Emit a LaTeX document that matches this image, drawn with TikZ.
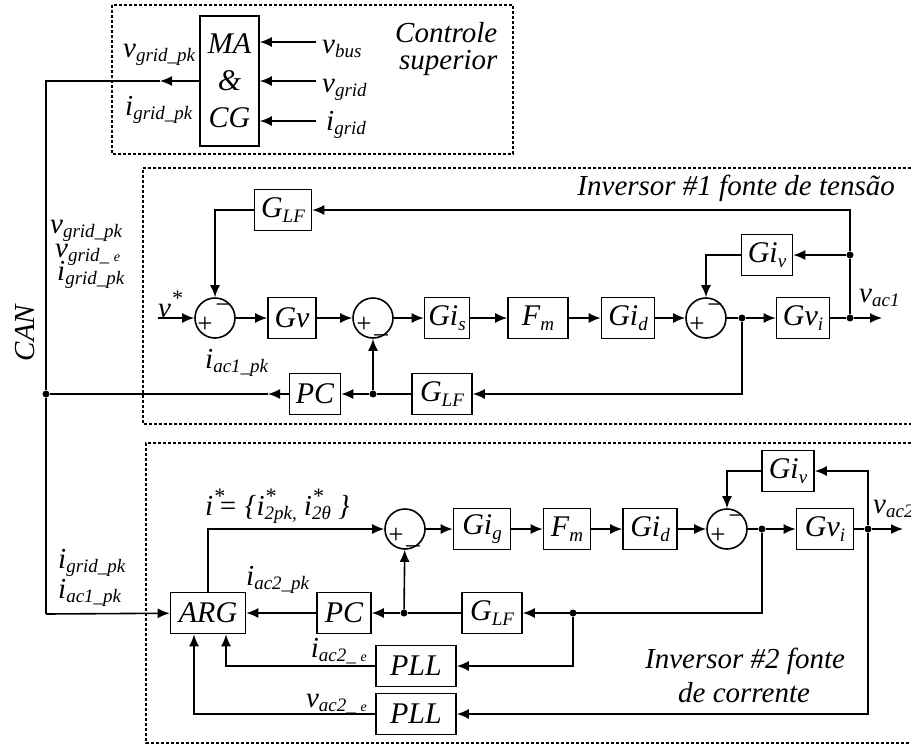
\documentclass[tikz,border=0pt]{standalone}
\usepackage{fontspec}
\setmainfont{Liberation Serif}
\usepackage{tikz}
\usetikzlibrary{positioning,calc,arrows.meta}

\newcommand{\lowtx}[1]{\raisebox{-0.17em}{\fontsize{19}{19}\selectfont #1}}
\newcommand{\uptx}[1]{\raisebox{0.40em}{\fontsize{22}{22}\selectfont #1}}
\newcommand{\tinye}{{\fontsize{14}{14}\selectfont e}}

\begin{document}
\begin{tikzpicture}[x=1pt,y=-1pt,font=\itshape\fontsize{29}{34}\selectfont,
 blk/.style={draw,line width=1.6pt,minimum height=41pt,inner sep=0pt,font=\itshape\fontsize{30}{34}\selectfont},
 sm/.style={draw,circle,line width=1.6pt,minimum size=40pt,inner sep=0pt},
 sgn/.style={font=\upshape\fontsize{27}{27}\selectfont,inner sep=0pt,anchor=base},
 ar/.style={-{Latex[length=12pt,width=10pt]},line width=1.6pt},
 ln/.style={line width=1.6pt},
 dotn/.style={circle,fill,inner sep=0pt,minimum size=7pt},
 dbox/.style={line width=1.3pt,dash pattern=on 3pt off 2pt},
 lbl/.style={inner sep=0pt,anchor=base west},
 lbr/.style={inner sep=0pt,anchor=base east}]
\useasboundingbox (0,0) rectangle (911,745);

% controle superior
\draw[dbox] (112,5) rectangle (513,154);
\node[draw,line width=1.6pt,minimum width=59pt,minimum height=130pt,inner sep=0pt,align=center,
 font=\itshape\fontsize{30}{37}\selectfont] (macg) at (229.5,81) {MA\\\&\\CG};
\coordinate (vbus) at (316,42);
\coordinate (vgrd) at (316,81);
\coordinate (igrd) at (316,121);
\draw[ar] (vbus) -- (vbus -| macg.east);
\draw[ar] (vgrd) -- (macg);
\draw[ar] (igrd) -- (igrd -| macg.east);
\node[lbl] at (322,53) {v\lowtx{bus}};
\node[lbl] at (322,92) {v\lowtx{grid}};
\node[lbl] at (326,130) {i\lowtx{grid}};
\node[lbl] (ctl1) at (395,42) {Controle};
\node[lbl] (ctl2) at (399,69) {superior};
\node[lbl] at (123,57) {v\lowtx{grid\_pk}};
\node[lbl] at (125,115) {i\lowtx{grid\_pk}};

% CAN
\coordinate (tipa) at (160,81);
\coordinate (cantop) at (46,81);
\node[dotn] (canj) at (46,394) {};
\coordinate (canbot) at (46,614);
\draw[ar] (macg.west) -- (tipa);
\draw[ln] (tipa) -- (cantop) -- (canj) -- (canbot);
\node[rotate=90,inner sep=0pt] (can) at (25,333) {CAN};
\node[lbl] at (50,233) {v\lowtx{grid\_pk}};
\node[lbl] at (55,257) {v\lowtx{grid\_ \tinye}};
\node[lbl] at (57,280) {i\lowtx{grid\_pk}};

% inversor 1
\draw[dbox] (911,168) -| (143,424) -- (911,424);
\node[lbr] at (895,195) {Inversor \#1 fonte de tensão};
\coordinate (vin) at (158,318);
\node[sm] (s1) at (215,318) {};
\node[blk,minimum width=48pt] (gv1) at (292,318) {Gv};
\node[sm] (s2) at (373,318) {};
\node[blk,minimum width=45pt] (gis1) at (447,318) {Gi\lowtx{s}};
\node[blk,minimum width=60pt] (fm1) at (538,318) {F\lowtx{m}};
\node[blk,minimum width=53pt] (gid1) at (628,318) {Gi\lowtx{d}};
\node[sm] (s3) at (706,318) {};
\node[dotn] (j1a) at (742,318) {};
\node[blk,minimum width=53pt] (gvi1) at (803,318) {Gv\lowtx{i}};
\node[dotn] (o1) at (850,318) {};
\coordinate (vo1) at (882,318);
\node[blk,minimum width=51pt] (giv1) at (767,255) {Gi\lowtx{v}};
\node[dotn] (j1b) at (850,255) {};
\node[blk,minimum width=57pt] (glf1t) at (283,210) {G\lowtx{LF}};
\node[blk,minimum width=60pt] (glf1b) at (442,394) {G\lowtx{LF}};
\node[dotn] (j1c) at (373,394) {};
\node[blk,minimum width=51pt] (pc1) at (315,394) {PC};
\coordinate (tipb) at (268,394);
\node[sgn] at (205,332) {+};
\node[sgn] at (223,313) {−};
\node[sgn] at (364,332) {+};
\node[sgn] at (381,332) {\_};
\node[sgn] at (697,332) {+};
\node[sgn] at (715,313) {−};
\draw[ar] (vin) -- (s1);
\draw[ar] (s1) -- (gv1);
\draw[ar] (gv1) -- (s2);
\draw[ar] (s2) -- (gis1);
\draw[ar] (gis1) -- (fm1);
\draw[ar] (fm1) -- (gid1);
\draw[ar] (gid1) -- (s3);
\draw[ln] (s3) -- (j1a);
\draw[ar] (j1a) -- (gvi1);
\draw[ln] (gvi1) -- (o1);
\draw[ar] (o1) -- (vo1);
\draw[ln] (o1) -- (j1b);
\draw[ar] (j1b) |- (glf1t.east);
\draw[ar] (j1b) -- (giv1);
\draw[ar] (giv1.west) -| (s3.north);
\draw[ar] (glf1t.west) -| (s1.north);
\draw[ar] (j1a) |- (glf1b.east);
\draw[ln] (glf1b) -- (j1c);
\draw[ar] (j1c) -- (s2);
\draw[ar] (j1c) -- (pc1);
\draw[ar] (pc1) -- (tipb);
\draw[ln] (tipb) -- (canj);
\node[lbl] at (158,317) {v\uptx{*}};
\node[lbl] at (205,368) {i\lowtx{ac1\_pk}};
\node[lbl] at (859,302) {v\lowtx{ac1}};

% inversor 2
\draw[dbox] (911,443) -| (146,743) -- (911,743);
\node[lbl] (inv2a) at (645,668) {Inversor \#2 fonte};
\node[lbl] (inv2b) at (678,702) {de corrente};
\node[blk,minimum width=75pt] (arg) at (208,613) {ARG};
\node[sm] (s4) at (405,529) {};
\node[blk,minimum width=57pt] (gig2) at (482,529) {Gi\lowtx{g}};
\node[blk,minimum width=47pt] (fm2) at (567,529) {F\lowtx{m}};
\node[blk,minimum width=54pt] (gid2) at (650,529) {Gi\lowtx{d}};
\node[sm] (s5) at (727,529) {};
\node[dotn] (j2a) at (762,529) {};
\node[blk,minimum width=57pt] (gvi2) at (825,529) {Gv\lowtx{i}};
\node[dotn] (o2) at (868,529) {};
\coordinate (vo2) at (903,529);
\node[blk,minimum width=52pt] (giv2) at (788,471) {Gi\lowtx{v}};
\node[blk,minimum width=60pt] (glf2) at (492,613) {G\lowtx{LF}};
\node[dotn] (j2b) at (573,613) {};
\node[dotn] (j2c) at (404,613) {};
\node[blk,minimum width=54pt] (pc2) at (344,613) {PC};
\node[blk,minimum width=80pt] (pll1) at (416,666) {PLL};
\node[blk,minimum width=80pt] (pll2) at (416,714) {PLL};
\node[sgn] at (396,543) {+};
\node[sgn] at (413,543) {\_};
\node[sgn] at (718,543) {+};
\node[sgn] at (736,524) {−};
\draw[ar] (canbot) -- (arg);
\draw[ar] (arg.north) |- (s4);
\draw[ar] (s4) -- (gig2);
\draw[ar] (gig2) -- (fm2);
\draw[ar] (fm2) -- (gid2);
\draw[ar] (gid2) -- (s5);
\draw[ln] (s5) -- (j2a);
\draw[ar] (j2a) -- (gvi2);
\draw[ln] (gvi2) -- (o2);
\draw[ar] (o2) -- (vo2);
\draw[ar] (o2) |- (giv2.east);
\draw[ar] (giv2.west) -| (s5.north);
\draw[ar] (o2) |- (pll2.east);
\draw[ar] (j2a) |- (glf2.east);
\draw[ln] (glf2) -- (j2c);
\draw[ar] (j2c) -- (s4);
\draw[ar] (j2c) -- (pc2);
\draw[ar] (pc2) -- (arg);
\draw[ar] (j2b) |- (pll1.east);
\draw[ar] (pll1.west) -| ([xshift=18pt]arg.south);
\draw[ar] (pll2.west) -| ([xshift=-14pt]arg.south);
\node[lbl] at (205,515) {i\rlap{\uptx{*}}\,= \{i\rlap{\uptx{*}}\lowtx{2pk,} i\rlap{\uptx{*}}\lowtx{2θ} \}};
\node[lbl] at (58,568) {i\lowtx{grid\_pk}};
\node[lbl] at (58,598) {i\lowtx{ac1\_pk}};
\node[lbl] at (246,585) {i\lowtx{ac2\_pk}};
\node[lbr] at (367,657) {i\lowtx{ac2\_ \tinye}};
\node[lbr] at (367,707) {v\lowtx{ac2\_ \tinye}};
\node[lbl] at (873,513) {v\lowtx{ac2}};
\end{tikzpicture}
\end{document}
